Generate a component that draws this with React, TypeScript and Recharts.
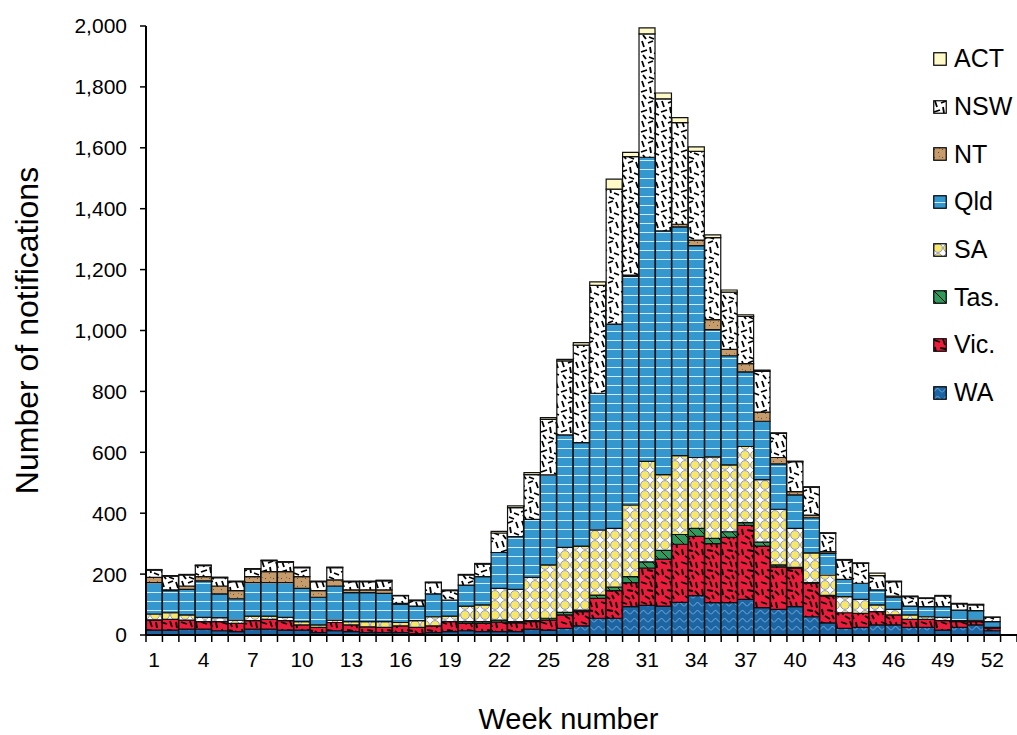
import React from "react";
import { BarChart, Bar, XAxis, YAxis } from "recharts";

// week 53 is an empty slot on the axis
const weeks = [
  1, 2, 3, 4, 5, 6, 7, 8, 9, 10, 11, 12, 13, 14, 15, 16, 17, 18, 19, 20,
  21, 22, 23, 24, 25, 26, 27, 28, 29, 30, 31, 32, 33, 34, 35, 36, 37, 38, 39, 40,
  41, 42, 43, 44, 45, 46, 47, 48, 49, 50, 51, 52, 53,
];

const wa = [
  16, 16, 19, 19, 14, 11, 19, 19, 16, 16, 8, 14, 11, 8, 8, 8, 5, 8, 11, 14,
  11, 11, 11, 19, 16, 22, 30, 55, 55, 93, 97, 95, 107, 129, 106, 106, 117, 90, 84, 93,
  60, 40, 22, 25, 33, 33, 25, 25, 16, 25, 33, 14,
];
const vic = [
  33, 35, 30, 25, 30, 27, 28, 32, 31, 17, 17, 27, 22, 19, 17, 22, 20, 22, 33, 24,
  27, 31, 29, 25, 33, 44, 47, 65, 91, 79, 123, 154, 191, 195, 194, 215, 243, 202, 140, 126,
  110, 88, 51, 46, 44, 33, 26, 26, 31, 19, 11, 8,
];
const tas = [
  1, 0, 0, 0, 0, 0, 0, 0, 0, 0, 0, 0, 0, 0, 0, 0, 0, 0, 0, 6,
  6, 7, 4, 3, 6, 8, 5, 11, 11, 20, 20, 29, 32, 26, 17, 18, 9, 13, 6, 3,
  2, 2, 0, 0, 0, 0, 0, 0, 0, 0, 0, 0,
];
const sa = [
  19, 22, 17, 14, 13, 11, 15, 11, 11, 11, 8, 8, 11, 17, 19, 11, 22, 30, 18, 51,
  55, 104, 106, 142, 175, 214, 210, 214, 193, 235, 330, 249, 259, 233, 268, 220, 250, 205, 183, 128,
  98, 67, 53, 46, 22, 18, 15, 9, 11, 3, 5, 3,
];
const qld = [
  103, 73, 84, 120, 78, 70, 110, 110, 114, 109, 91, 112, 95, 95, 93, 60, 48, 75, 53, 69,
  93, 118, 173, 191, 296, 369, 340, 449, 671, 751, 999, 800, 751, 696, 418, 358, 245, 192, 149, 110,
  115, 71, 57, 53, 49, 40, 29, 33, 35, 35, 31, 19,
];
const nt = [
  17, 2, 11, 14, 26, 27, 20, 36, 36, 39, 22, 20, 9, 9, 11, 3, 0, 0, 0, 0,
  0, 0, 0, 0, 0, 0, 0, 0, 0, 4, 0, 0, 9, 18, 33, 21, 27, 30, 21, 11,
  9, 6, 0, 0, 0, 4, 0, 0, 0, 0, 0, 0,
];
const nsw = [
  24, 45, 36, 36, 27, 29, 24, 36, 31, 29, 29, 40, 27, 27, 30, 25, 18, 37, 31, 33,
  41, 64, 95, 147, 182, 243, 320, 354, 443, 389, 405, 434, 334, 291, 269, 188, 155, 134, 79, 98,
  91, 60, 63, 65, 47, 47, 31, 27, 35, 20, 19, 14,
];
const act = [
  2, 2, 2, 2, 2, 2, 2, 2, 2, 2, 2, 2, 2, 2, 2, 1, 2, 2, 2, 2,
  2, 5, 6, 6, 6, 5, 8, 12, 33, 14, 20, 19, 16, 15, 9, 7, 5, 4, 2, 2,
  2, 2, 2, 2, 8, 2, 2, 2, 2, 2, 2, 1,
];

const yTicks = [0, 200, 400, 600, 800, 1000, 1200, 1400, 1600, 1800, 2000];

// stacking order, bottom first
const series = [
  { key: "WA", values: wa, fill: "url(#pWA)" },
  { key: "Vic.", values: vic, fill: "url(#pVic)" },
  { key: "Tas.", values: tas, fill: "url(#pTas)" },
  { key: "SA", values: sa, fill: "url(#pSA)" },
  { key: "Qld", values: qld, fill: "url(#pQld)" },
  { key: "NT", values: nt, fill: "url(#pNT)" },
  { key: "NSW", values: nsw, fill: "url(#pNSW)" },
  { key: "ACT", values: act, fill: "url(#pACT)" },
];

const data = weeks.map((week, i) => {
  const row: Record<string, number | undefined> = { week };
  series.forEach((s) => (row[s.key] = s.values[i]));
  return row;
});

const FONT = "'Liberation Sans', Arial, sans-serif";

function Patterns() {
  const dash = (lines: number[][], w = 1.8) =>
    lines.map((l, i) => (
      <line key={i} x1={l[0]} y1={l[1]} x2={l[2]} y2={l[3]} stroke="#000" strokeWidth={w} />
    ));
  return (
    <svg width={0} height={0} style={{ position: "absolute" }}>
      <defs>
        <pattern id="pACT" patternUnits="userSpaceOnUse" width={8} height={8}>
          <rect width={8} height={8} fill="#FFFAC8" />
        </pattern>
        <pattern id="pNSW" patternUnits="userSpaceOnUse" width={20} height={20}>
          <rect width={20} height={20} fill="#fff" />
          {dash([
            [2, 1, 4, 7], [8, 3, 13, 1], [16, 2, 18, 8], [1, 12, 7, 10],
            [10, 7, 11, 13], [14, 13, 19, 15], [3, 15, 6, 19], [9, 17, 14, 19],
          ])}
        </pattern>
        <pattern id="pNT" patternUnits="userSpaceOnUse" width={8} height={8}>
          <rect width={8} height={8} fill="#C69C6D" />
          <rect x={1} y={2} width={1} height={1} fill="#6B4A2A" />
          <rect x={5} y={5} width={1} height={1} fill="#6B4A2A" />
          <rect x={6} y={1} width={1} height={1} fill="#8A6640" />
        </pattern>
        <pattern id="pQld" patternUnits="userSpaceOnUse" width={10} height={9}>
          <rect width={10} height={9} fill="#3497CE" />
          <rect y={7} width={10} height={1} fill="#D2EAF8" />
        </pattern>
        <pattern id="pSA" patternUnits="userSpaceOnUse" width={10} height={10}>
          <rect width={10} height={10} fill="#fff" />
          <circle cx={5} cy={5} r={4.4} fill="#F8E868" stroke="#8E97CA" strokeWidth={1} />
        </pattern>
        <pattern id="pTas" patternUnits="userSpaceOnUse" width={10} height={10}>
          <rect width={10} height={10} fill="#2F9A5B" />
          <line x1={0} y1={0} x2={10} y2={10} stroke="#000" strokeWidth={1} />
        </pattern>
        <pattern id="pVic" patternUnits="userSpaceOnUse" width={20} height={20}>
          <rect width={20} height={20} fill="#EC1C3C" />
          {dash([
            [1, 2, 7, 4], [10, 1, 12, 7], [16, 2, 17, 8], [2, 9, 3, 15],
            [7, 10, 13, 11], [15, 11, 19, 15], [5, 16, 10, 19], [12, 15, 14, 19],
          ])}
        </pattern>
        <pattern id="pWA" patternUnits="userSpaceOnUse" width={9} height={8}>
          <rect width={9} height={8} fill="#1D64A2" />
          <polyline points="0,6.5 4.5,2 9,6.5" fill="none" stroke="#72AEE0" strokeWidth={1} />
        </pattern>
      </defs>
    </svg>
  );
}

function WeekTick(props: any) {
  const { x, y, payload } = props;
  const half = payload && typeof payload.offset === "number" && payload.offset > 0 ? payload.offset : 8.2;
  const w = Number(payload.value);
  return (
    <g>
      <line x1={x - half} x2={x - half} y1={y} y2={y + 7} stroke="#000" strokeWidth={1.5} />
      {w === 53 && <line x1={x + half} x2={x + half} y1={y} y2={y + 7} stroke="#000" strokeWidth={1.5} />}
      {w <= 52 && (w - 1) % 3 === 0 && (
        <text x={x} y={y + 32} textAnchor="middle" fontSize={21} fill="#000" fontFamily={FONT}>
          {w}
        </text>
      )}
    </g>
  );
}

function LegendBox() {
  const order = [...series].reverse();
  return (
    <div style={{ position: "absolute", left: 933, top: 35, fontFamily: FONT }}>
      {order.map((s) => (
        <div key={s.key} style={{ display: "flex", alignItems: "center", height: 47.7 }}>
          <svg width={14} height={14}>
            <rect x={0.75} y={0.75} width={12.5} height={12.5} fill={s.fill} stroke="#000" strokeWidth={1.2} />
          </svg>
          <span style={{ marginLeft: 7, fontSize: 25, color: "#000" }}>{s.key}</span>
        </div>
      ))}
    </div>
  );
}

export default function App() {
  return (
    <div style={{ position: "absolute", left: 0, top: 0, width: 1017, height: 735, background: "#fff", fontFamily: FONT }}>
      <Patterns />
      <BarChart
        width={1017}
        height={735}
        data={data}
        margin={{ top: 26, right: 0, bottom: 0, left: 0 }}
        barCategoryGap={0}
        barGap={0}
      >
        <XAxis
          dataKey="week"
          interval={0}
          tickLine={false}
          tickSize={0}
          tickMargin={0}
          height={100}
          axisLine={{ stroke: "#000", strokeWidth: 2 }}
          tick={<WeekTick />}
          label={{
            content: (p: any) => {
              const vb = p.viewBox || { x: 146, y: 635, width: 871, height: 100 };
              return (
                <text x={vb.x + vb.width / 2 - 13} y={vb.y + vb.height - 6} textAnchor="middle" fontSize={29} fill="#000" fontFamily={FONT}>
                  Week number
                </text>
              );
            },
          }}
        />
        <YAxis
          domain={[0, 2000]}
          ticks={yTicks}
          interval={0}
          width={146}
          tickSize={6}
          tickMargin={13}
          allowDataOverflow
          axisLine={{ stroke: "#000", strokeWidth: 2 }}
          tickLine={{ stroke: "#000", strokeWidth: 1.5 }}
          tick={{ fill: "#000", fontSize: 21, fontFamily: FONT }}
          tickFormatter={(v: number) => v.toLocaleString("en-US")}
          label={{
            content: (p: any) => {
              const vb = p.viewBox || { x: 0, y: 26, width: 146, height: 609 };
              const cx = 27;
              const cy = vb.y + vb.height / 2;
              return (
                <text
                  x={cx}
                  y={cy}
                  transform={`rotate(-90 ${cx} ${cy})`}
                  textAnchor="middle"
                  dominantBaseline="central"
                  fontSize={32}
                  fill="#000"
                  fontFamily={FONT}
                >
                  Number of notifications
                </text>
              );
            },
          }}
        />
        {series.map((s) => (
          <Bar
            key={s.key}
            dataKey={s.key}
            stackId="a"
            fill={s.fill}
            stroke="#111"
            strokeWidth={1.2}
            isAnimationActive={false}
          />
        ))}
      </BarChart>
      <LegendBox />
    </div>
  );
}
